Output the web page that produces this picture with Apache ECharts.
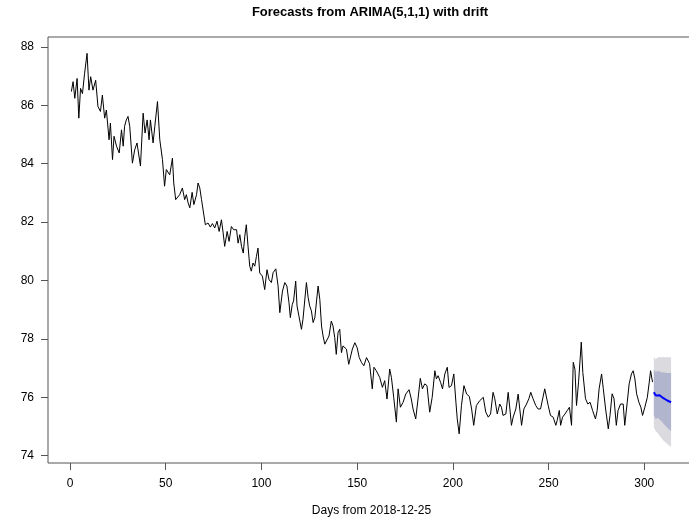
<!DOCTYPE html>
<html>
<head>
<meta charset="utf-8">
<script src="https://cdn.jsdelivr.net/npm/echarts@6/dist/echarts.min.js"></script>
<style>
    html, body { margin: 0; padding: 0; background: #fff; }
    #chart { width: 689px; height: 517px; }
</style>
</head>
<body>
<div id="chart"></div>
<script>
// Observed series (days from 2018-12-25) at each vertex
const obsDays = [
    0.7, 1.6, 2.5, 3.7, 4.6, 5.5, 6.5, 7.6, 8.9, 9.9, 10.8, 12.0, 13.4, 14.6, 15.9, 16.9, 18.1, 19.0, 20.4, 21.1,
    22.2, 23.0, 24.3, 25.7, 26.9, 27.8, 28.5, 29.4, 30.3, 31.2, 32.6, 33.8, 35.0, 36.8, 38.2, 39.2, 40.3, 41.3, 42.0, 43.4,
    44.3, 45.7, 46.9, 48.3, 49.4, 50.3, 52.1, 53.5, 54.2, 55.2, 57.3, 58.7, 59.9, 60.8, 61.7, 62.6, 63.8, 64.7, 66.1, 66.9,
    67.8, 68.7, 69.6, 70.7, 72.1, 73.3, 74.4, 75.6, 76.8, 77.9, 79.1, 80.0, 80.8, 82.1, 83.1, 84.3, 85.5, 87.0, 87.8, 88.7,
    89.6, 90.5, 91.3, 92.1, 93.0, 93.9, 94.7, 95.6, 96.5, 97.4, 98.2, 99.1, 100.5, 101.7, 102.9, 104.0, 105.2, 106.1, 107.5, 108.7,
    109.6, 111.0, 112.2, 113.3, 114.4, 115.1, 116.1, 116.8, 117.9, 118.6, 119.6, 120.9, 121.7, 122.6, 123.5, 124.4, 125.2, 126.1, 127.0, 127.9,
    128.7, 129.6, 130.5, 131.4, 132.2, 133.1, 133.9, 135.3, 136.5, 137.4, 138.3, 139.1, 140.0, 140.9, 141.8, 142.6, 143.5, 144.4, 145.6, 146.5,
    147.5, 148.8, 150.0, 151.1, 152.3, 153.5, 154.9, 155.7, 156.5, 157.9, 158.8, 160.0, 160.9, 161.8, 163.2, 164.4, 165.6, 167.0, 167.9, 169.1,
    170.5, 171.4, 172.6, 174.0, 175.4, 177.1, 178.3, 179.2, 180.6, 181.8, 183.0, 184.1, 185.3, 186.5, 187.9, 189.2, 190.6, 191.4, 192.3, 193.6,
    194.6, 195.8, 197.1, 198.0, 199.3, 200.5, 201.6, 202.3, 203.3, 204.5, 205.8, 207.2, 208.6, 209.8, 210.9, 212.3, 214.1, 215.9, 217.2, 218.5,
    219.7, 221.0, 221.9, 223.2, 224.5, 225.4, 226.2, 227.7, 228.9, 229.8, 230.6, 231.5, 232.9, 234.1, 235.0, 235.9, 237.1, 238.5, 239.7, 240.7,
    241.9, 243.3, 244.5, 245.8, 246.8, 248.0, 248.9, 249.8, 251.0, 252.4, 253.8, 254.5, 255.6, 256.3, 257.3, 258.6, 259.8, 260.9, 262.0, 262.9,
    263.8, 264.6, 265.7, 267.1, 267.9, 269.3, 270.5, 271.7, 273.0, 273.7, 274.5, 275.4, 276.4, 277.7, 278.6, 279.8, 281.2, 282.1, 283.2, 284.2,
    285.4, 286.3, 287.6, 289.0, 289.8, 291.1, 292.1, 293.3, 294.2, 295.1, 296.0, 297.2, 298.2, 299.1, 300.3, 301.6, 302.6, 303.3, 304.3
];
const obsValues = [
    86.47, 86.81, 86.24, 86.92, 85.56, 86.58, 86.40, 87.08, 87.78, 86.52, 86.98, 86.52, 86.86, 85.96, 85.79, 86.35, 85.56, 85.84, 84.82, 85.39,
    84.14, 84.94, 84.60, 84.37, 85.16, 84.60, 85.28, 85.50, 85.62, 85.28, 84.02, 84.48, 84.71, 83.92, 85.73, 85.05, 85.50, 84.82, 85.50, 84.71,
    85.28, 86.13, 84.82, 84.14, 83.23, 83.80, 83.62, 84.19, 83.34, 82.77, 82.94, 83.17, 82.77, 82.94, 82.66, 82.49, 83.02, 82.60, 82.94, 83.34,
    83.17, 82.77, 82.71, 81.91, 81.97, 81.83, 81.95, 81.80, 82.03, 81.68, 82.08, 81.63, 81.17, 81.68, 81.34, 81.85, 81.74, 81.74, 81.28, 81.57,
    81.17, 80.94, 81.51, 81.91, 81.17, 80.49, 80.32, 80.60, 80.49, 80.83, 81.11, 80.26, 80.15, 79.69, 80.37, 80.03, 79.93, 80.27, 80.40, 79.81,
    78.90, 79.64, 79.93, 79.81, 79.24, 78.73, 79.18, 79.30, 79.98, 79.13, 78.78, 78.33, 78.67, 78.67, 79.93, 79.42, 79.13, 78.96, 78.56, 78.73,
    78.67, 79.81, 79.35, 78.44, 78.10, 77.82, 77.87, 78.10, 78.61, 78.44, 78.04, 77.47, 78.21, 78.33, 77.53, 77.76, 77.70, 77.65, 77.13, 77.08,
    77.65, 77.87, 77.70, 77.36, 77.19, 77.08, 77.36, 77.30, 77.15, 76.29, 77.03, 76.91, 76.97, 76.68, 76.34, 76.57, 75.94, 76.97, 76.68, 76.00,
    75.15, 76.29, 75.66, 75.83, 76.11, 76.26, 75.94, 75.60, 75.26, 75.94, 76.65, 76.29, 76.46, 76.40, 75.49, 76.00, 76.91, 76.63, 76.74, 76.51,
    76.29, 76.80, 77.03, 76.34, 76.40, 76.80, 75.83, 75.26, 74.75, 75.72, 76.40, 76.11, 76.03, 75.60, 75.04, 75.72, 75.89, 76.00, 75.49, 75.32,
    75.43, 76.17, 75.95, 75.43, 75.77, 75.66, 75.38, 75.43, 76.17, 75.60, 75.04, 75.32, 75.60, 76.11, 76.06, 75.04, 75.60, 75.77, 75.95, 76.17,
    75.95, 75.72, 75.60, 75.60, 75.66, 76.29, 76.23, 75.72, 75.38, 75.32, 75.04, 75.21, 75.55, 75.04, 75.32, 75.43, 75.55, 75.66, 75.04, 77.20,
    76.95, 75.72, 76.55, 77.89, 76.85, 75.95, 75.77, 75.83, 75.55, 75.60, 75.26, 75.55, 76.29, 76.80, 76.29, 75.60, 74.92, 75.38, 76.12, 75.95,
    75.04, 75.55, 75.77, 75.77, 75.04, 75.83, 76.46, 76.80, 76.91, 76.63, 76.12, 75.83, 75.66, 75.38, 75.66, 76.00, 76.52, 76.91, 76.52
];

// Forecast horizon with 80% / 95% intervals
const fcDays = [305, 306, 307, 308, 309, 310, 311, 312, 313, 314];
const fcMean = [76.17, 76.06, 76.11, 76.07, 76.03, 75.97, 75.93, 75.89, 75.86, 75.83];
const lo80 = [75.39, 75.25, 75.30, 75.24, 75.18, 75.10, 75.03, 74.96, 74.90, 74.84];
const hi80 = [76.95, 76.87, 76.90, 76.88, 76.86, 76.85, 76.84, 76.83, 76.83, 76.83];
const lo95 = [74.97, 74.85, 74.78, 74.68, 74.60, 74.52, 74.46, 74.40, 74.35, 74.30];
const hi95 = [77.37, 77.30, 77.36, 77.38, 77.37, 77.38, 77.37, 77.37, 77.37, 77.37];

const xTicks = [0, 50, 100, 150, 200, 250, 300];
const yTicks = [74, 76, 78, 80, 82, 84, 86, 88];

const FONT = '"Liberation Sans", Arial, sans-serif';
const AXIS_COLOR = '#555';

// polygon between lower and upper bounds, placed through the axis scales
function bandSeries(name, lo, hi, color) {
    return {
        name: name,
        type: 'custom',
        silent: true,
        data: fcDays.map((d, i) => [d, lo[i], hi[i]]),
        encode: { x: 0, y: [1, 2] },
        renderItem: function (params, api) {
            if (params.dataIndex !== 0) return null;
            const pts = [];
            for (let i = 0; i < fcDays.length; i++) pts.push(api.coord([fcDays[i], hi[i]]));
            for (let i = fcDays.length - 1; i >= 0; i--) pts.push(api.coord([fcDays[i], lo[i]]));
            return { type: 'polygon', shape: { points: pts }, style: { fill: color } };
        }
    };
}

const chart = echarts.init(document.getElementById('chart'), null, { renderer: 'canvas' });

const option = {
    animation: false,
    backgroundColor: '#fff',
    title: {
        text: 'Forecasts from ARIMA(5,1,1) with drift',
        left: 370,
        textAlign: 'center',
        top: 6,
        padding: 0,
        textStyle: { color: '#000', fontSize: 13, fontWeight: 'bold', fontFamily: FONT }
    },
    grid: {
        left: 48,
        top: 37,
        width: 647,
        height: 426,
        outerBoundsMode: 'none',   // keep the box where R put it, even though its right edge is off-canvas
        containLabel: false,
        show: true,
        borderColor: AXIS_COLOR,
        borderWidth: 1,
        backgroundColor: 'transparent'
    },
    xAxis: {
        type: 'value',
        position: 'bottom',
        min: -11.5,
        max: 326.5,
        name: 'Days from 2018-12-25',
        nameLocation: 'middle',
        nameGap: 42,
        nameTextStyle: { color: '#000', fontSize: 12, fontFamily: FONT },
        axisLine: { show: false, onZero: false },
        axisTick: { show: true, inside: false, length: 7, lineStyle: { color: AXIS_COLOR }, customValues: xTicks },
        axisLabel: { show: true, color: '#000', fontSize: 12, fontFamily: FONT, margin: 15, customValues: xTicks },
        splitLine: { show: false }
    },
    yAxis: {
        type: 'value',
        position: 'left',
        min: 73.75,
        max: 88.34,
        axisLine: { show: false, onZero: false },
        axisTick: { show: true, inside: false, length: 7, lineStyle: { color: AXIS_COLOR }, customValues: yTicks },
        axisLabel: { show: true, color: '#000', fontSize: 12, fontFamily: FONT, margin: 14, customValues: yTicks },
        splitLine: { show: false }
    },
    series: [
        {
            name: 'Observed',
            type: 'line',
            data: obsDays.map((d, i) => [d, obsValues[i]]),
            symbol: 'none',
            lineStyle: { color: '#000', width: 1 },
            z: 3
        },
        bandSeries('95%', lo95, hi95, '#DBDBDF'),
        bandSeries('80%', lo80, hi80, '#B1B5CE'),
        {
            name: 'Forecast',
            type: 'line',
            data: fcDays.map((d, i) => [d, fcMean[i]]),
            symbol: 'none',
            lineStyle: { color: '#0000FF', width: 2 },
            z: 4
        }
    ]
};

chart.setOption(option);
</script>
</body>
</html>
